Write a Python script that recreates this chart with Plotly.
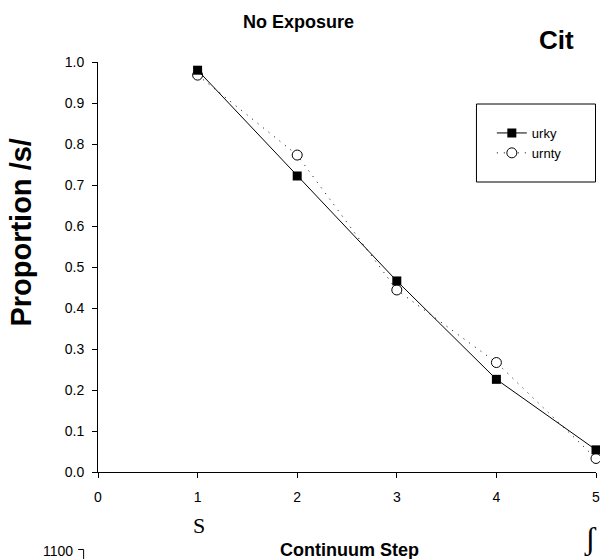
import plotly.graph_objects as go

W, H = 600, 559
L, R, T, B = 98, 0, 62, 559 - 472

steps = [1, 2, 3, 4, 5]
urky = [0.980, 0.722, 0.466, 0.226, 0.054]
urnty = [0.968, 0.773, 0.444, 0.267, 0.033]
x_ticks = [0, 1, 2, 3, 4, 5]
y_ticks = [0.0, 0.1, 0.2, 0.3, 0.4, 0.5, 0.6, 0.7, 0.8, 0.9, 1.0]

FONT = "Liberation Sans, Arial, sans-serif"
SERIF = "Liberation Serif, Times New Roman, serif"

pw, ph = W - L - R, H - T - B
def px(x):
    return (x - L) / pw
def py(y):
    return (H - B - y) / ph

def ann(text, x, y, size, family=FONT, xanchor="center", **kw):
    return dict(text=text, x=px(x), y=py(y), xref="paper", yref="paper",
                xanchor=xanchor, yanchor="middle", showarrow=False,
                font=dict(size=size, family=family, color="black"), **kw)

fig = go.Figure()
fig.add_trace(go.Scatter(
    x=steps, y=urnty, name="urnty", mode="lines+markers",
    line=dict(color="black", width=1, dash="1px,6px"),
    marker=dict(symbol="circle", size=10, color="white", line=dict(color="black", width=1)),
    legendrank=2, cliponaxis=False,
))
fig.add_trace(go.Scatter(
    x=steps, y=urky, name="urky", mode="lines+markers",
    line=dict(color="black", width=1),
    marker=dict(symbol="square", size=9, color="black", line=dict(color="black", width=0)),
    legendrank=1, cliponaxis=False,
))

fig.update_layout(
    width=W, height=H,
    margin=dict(l=L, r=R, t=T, b=B, pad=0),
    paper_bgcolor="white", plot_bgcolor="white",
    font=dict(family=FONT, color="black", size=14),
    showlegend=True,
    legend=dict(x=px(495), y=py(118), xanchor="left", yanchor="top",
                bgcolor="rgba(0,0,0,0)", borderwidth=0,
                font=dict(family=FONT, size=13), itemwidth=30,
                tracegroupgap=0),
    xaxis=dict(range=[0, 5.0], tickvals=x_ticks, ticktext=[str(v) for v in x_ticks],
               showgrid=False, zeroline=False, showline=True, linecolor="black", linewidth=1,
               ticks="outside", ticklen=5, tickwidth=1, tickcolor="black",
               tickfont=dict(size=14), ticklabelstandoff=7, ticklabeloverflow="allow"),
    yaxis=dict(range=[0, 1.0], tickvals=y_ticks, ticktext=[f"{v:.1f}" for v in y_ticks],
               showgrid=False, zeroline=False, showline=True, linecolor="black", linewidth=1,
               ticks="outside", ticklen=5, tickwidth=1, tickcolor="black",
               tickfont=dict(size=14), ticklabelstandoff=5),
    shapes=[
        dict(type="rect", xref="paper", yref="paper", x0=px(479.5), x1=px(599.5),
             y0=py(182), y1=py(104), line=dict(color="black", width=1)),
        dict(type="line", xref="paper", yref="paper", x0=px(78), x1=px(83.5),
             y0=py(549.5), y1=py(549.5), line=dict(color="black", width=1)),
        dict(type="line", xref="paper", yref="paper", x0=px(83.5), x1=px(83.5),
             y0=py(549.5), y1=py(565), line=dict(color="black", width=1)),
    ],
    annotations=[
        ann("<b>No Exposure</b>", 300, 22, 18),
        ann("<b>Cit</b>", 541, 40, 26, xanchor="left"),
        ann("<b>Proportion /s/</b>", 20, 232, 29, textangle=-90),
        ann("S", 200, 525, 22, family=SERIF),
        ann("ʃ", 594, 538, 32, family=SERIF),
        ann("<b>Continuum Step</b>", 352, 550, 18),
        ann("1100", 75, 551, 14, xanchor="right"),
    ],
)

fig.write_html(
    "out.html",
    config={"displayModeBar": False},
    post_script="document.body.style.margin='0';document.body.style.overflow='hidden';",
)
